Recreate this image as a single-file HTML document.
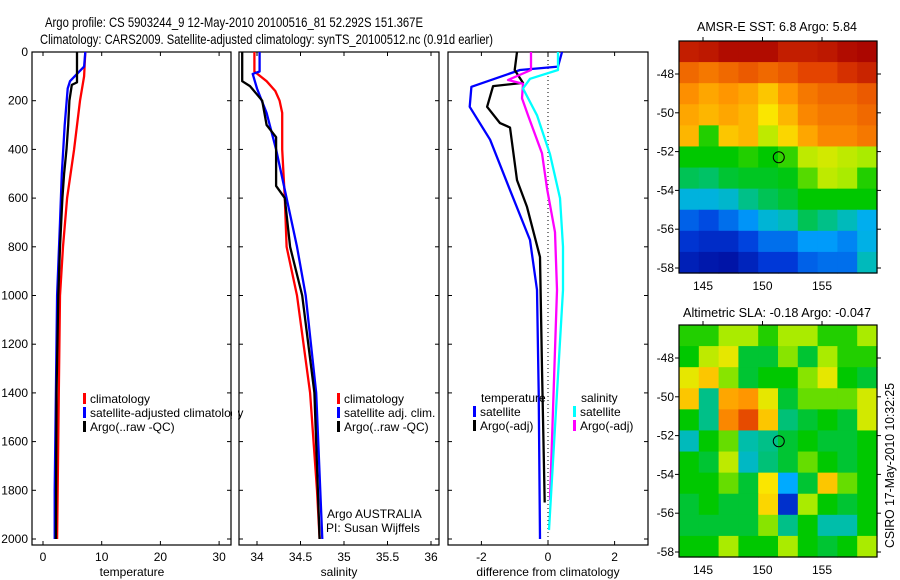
<!DOCTYPE html>
<html><head><meta charset="utf-8">
<style>
html,body{margin:0;padding:0;background:#fff;}
svg{display:block;font-family:"Liberation Sans",sans-serif;}
</style></head>
<body>
<svg id="fig" width="900" height="580" viewBox="0 0 900 580" xmlns="http://www.w3.org/2000/svg">
<text x="45" y="27" font-size="14" textLength="378" lengthAdjust="spacingAndGlyphs">Argo profile: CS 5903244_9 12-May-2010 20100516_81 52.292S 151.367E</text>
<text x="40" y="44" font-size="14" textLength="453" lengthAdjust="spacingAndGlyphs">Climatology: CARS2009. Satellite-adjusted climatology: synTS_20100512.nc (0.91d earlier)</text>
<text x="697" y="31" font-size="13" textLength="160" lengthAdjust="spacingAndGlyphs">AMSR-E SST: 6.8 Argo: 5.84</text>
<text x="683" y="317" font-size="13" textLength="188" lengthAdjust="spacingAndGlyphs">Altimetric SLA: -0.18 Argo: -0.047</text>
<text transform="translate(894,548) rotate(-90)" font-size="13" textLength="165" lengthAdjust="spacingAndGlyphs">CSIRO 17-May-2010 10:32:25</text>
<g id="plots"></g>
</svg>
<script>
// ---------- data ----------
const tDepthClim=[0,100,200,400,600,800,1000,1400,2000];
const tClim=[7.2,7.0,6.3,5.3,4.1,3.4,2.9,2.7,2.4];
const tDepthSat=[0,60,120,150,300,500,700,1000,1800,2000];
const tSat=[7.2,7.0,4.6,4.2,3.7,3.2,2.9,2.4,2.0,2.0];
const tDepthArgo=[0,80,125,135,200,300,400,500,600,800,1000,1400,2000];
const tArgo=[5.8,5.8,5.8,4.9,4.5,4.3,4.0,3.6,3.3,2.9,2.6,2.3,2.2];

const sDepthClim=[0,80,120,160,200,250,400,600,800,1000,1400,1800,2000];
const sClim=[33.97,33.97,34.11,34.21,34.26,34.29,34.29,34.32,34.34,34.46,34.61,34.69,34.72];
const sDepthSat=[0,80,90,150,250,400,600,800,1000,1400,2000];
const sSat=[34.03,34.03,33.95,34.0,34.11,34.22,34.34,34.46,34.56,34.68,34.75];
const sDepthArgo=[0,120,140,200,300,350,550,600,800,1000,1400,2000];
const sArgo=[33.83,33.83,33.92,34.06,34.11,34.22,34.22,34.32,34.38,34.52,34.66,34.72];

const dDepthTSat=[0,60,74,143,225,360,567,772,977,1400,2000];
const dTSat=[0.42,0.3,-0.84,-2.3,-2.35,-1.74,-1.14,-0.54,-0.33,-0.28,-0.24];
const dDepthTArgo=[0,74,127,140,225,292,310,526,636,842,1300,1850];
const dTArgo=[-0.93,-1.0,-0.75,-1.65,-1.83,-1.44,-1.14,-0.93,-0.63,-0.24,-0.18,-0.1];
const dDepthSArgo=[0,74,115,130,190,260,416,560,740,977,1840];
const dSArgo=[-0.51,-0.51,-1.2,-0.75,-0.78,-0.6,-0.18,-0.03,0.21,0.27,0.06];
const dDepthSSat=[0,74,110,150,260,420,600,800,977,1963];
const dSSat=[0.3,0.3,-0.54,-0.75,-0.33,0.06,0.36,0.45,0.45,0.03];

const depthTicks=[0,200,400,600,800,1000,1200,1400,1600,1800,2000];
const tempTicks=[0,10,20,30];
const salTicks=[34,34.5,35,35.5,36];
const diffTicks=[-2,0,2];
const lonTicks=[145,150,155];
const latTicks=[-48,-50,-52,-54,-56,-58];

const sstGrid=[
[0.95,0.96,0.98,0.98,0.98,0.95,0.95,0.96,0.98,0.99],
[0.84,0.82,0.84,0.86,0.84,0.86,0.89,0.89,0.92,0.94],
[0.79,0.76,0.78,0.76,0.72,0.78,0.82,0.84,0.84,0.86],
[0.76,0.74,0.76,0.74,0.68,0.74,0.8,0.82,0.82,0.84],
[0.74,0.52,0.72,0.74,0.62,0.7,0.76,0.8,0.8,0.82],
[0.5,0.5,0.5,0.52,0.5,0.53,0.62,0.64,0.62,0.6],
[0.45,0.44,0.47,0.48,0.48,0.49,0.55,0.62,0.6,0.52],
[0.34,0.34,0.36,0.42,0.45,0.47,0.5,0.5,0.5,0.5],
[0.2,0.17,0.22,0.27,0.35,0.38,0.45,0.42,0.38,0.32],
[0.13,0.11,0.11,0.16,0.22,0.22,0.28,0.28,0.25,0.33],
[0.08,0.06,0.05,0.09,0.14,0.14,0.2,0.22,0.22,0.38]];
const slaGrid=[
[0.52,0.52,0.6,0.6,0.52,0.6,0.6,0.52,0.52,0.6],
[0.5,0.62,0.66,0.47,0.47,0.58,0.47,0.6,0.52,0.52],
[0.66,0.72,0.58,0.47,0.5,0.5,0.58,0.66,0.5,0.47],
[0.72,0.42,0.76,0.78,0.66,0.47,0.56,0.56,0.56,0.64],
[0.5,0.42,0.8,0.88,0.72,0.43,0.47,0.5,0.47,0.64],
[0.38,0.5,0.56,0.4,0.42,0.47,0.5,0.47,0.47,0.5],
[0.5,0.47,0.62,0.37,0.43,0.47,0.56,0.5,0.47,0.5],
[0.5,0.5,0.56,0.47,0.68,0.3,0.47,0.72,0.56,0.5],
[0.47,0.5,0.47,0.47,0.7,0.12,0.6,0.5,0.47,0.5],
[0.47,0.47,0.47,0.47,0.58,0.42,0.5,0.4,0.4,0.5],
[0.5,0.5,0.6,0.5,0.5,0.6,0.5,0.47,0.5,0.6]];
const argoLon=151.367, argoLat=-52.292;

// ---------- helpers ----------
const NS="http://www.w3.org/2000/svg";
const root=document.getElementById('plots');
function mk(tag,attrs,parent){const e=document.createElementNS(NS,tag);for(const k in attrs)e.setAttribute(k,attrs[k]);(parent||root).appendChild(e);return e;}
const yD=d=>52+d*0.2435;
function panel(x0,x1,name){
  const r=mk('rect',{x:x0,y:52,width:x1-x0,height:493,fill:'none',stroke:'#000','stroke-width':1.2});
  
  
  depthTicks.forEach(d=>{mk('line',{x1:x0,x2:x0+4,y1:yD(d),y2:yD(d),stroke:'#000'});mk('line',{x1:x1,x2:x1-4,y1:yD(d),y2:yD(d),stroke:'#000'});});
}
function xTicks(ticks,sx,name){
  ticks.forEach(v=>{const x=sx(v);
    mk('line',{x1:x,x2:x,y1:545,y2:541,stroke:'#000'});mk('line',{x1:x,x2:x,y1:52,y2:56,stroke:'#000'});
    const t=mk('text',{x:x,y:561,'font-size':12,'text-anchor':'middle'});t.textContent=String(v);
    
    });
}
function line(ds,vs,sx,color,name){
  const pts=ds.map((d,i)=>sx(vs[i]).toFixed(1)+','+yD(d).toFixed(1)).join(' ');
  const p=mk('polyline',{points:pts,fill:'none',stroke:color,'stroke-width':2.3,'stroke-linejoin':'round'});
  
  
}
function label(x,y,s,name,anchor){const t=mk('text',{x:x,y:y,'font-size':12,'text-anchor':anchor||'start'});t.textContent=s;
  
  return t;}
function legend(x,y,color,s,name){mk('rect',{x:x,y:y-10,width:3,height:11,fill:color});label(x+7,y,s,name);}

// ---------- panel 1: temperature ----------
const sxT=v=>43+v*5.87;
panel(32,231,'temperature-panel');
depthTicks.forEach(d=>label(28,yD(d)+4,String(d),'depth-tick-label','end'));
xTicks(tempTicks,sxT,'temperature-tick-label');
line(tDepthClim,tClim,sxT,'#f00','temp-climatology-line');
line(tDepthSat,tSat,sxT,'#00f','temp-satellite-line');
line(tDepthArgo,tArgo,sxT,'#000','temp-argo-line');
label(132,576,'temperature','temperature-axis-title','middle');
legend(83,403,'#f00','climatology','legend-climatology');
legend(83,417,'#00f','satellite-adjusted climatology','legend-satellite-adjusted');
legend(83,431,'#000','Argo(..raw -QC)','legend-argo-raw');

// ---------- panel 2: salinity ----------
const sxS=v=>257+(v-34)*87;
mk('rect',{x:232,y:380,width:6,height:60,fill:'#fff'});
panel(239,439,'salinity-panel');
xTicks(salTicks,sxS,'salinity-tick-label');
line(sDepthClim,sClim,sxS,'#f00','sal-climatology-line');
line(sDepthSat,sSat,sxS,'#00f','sal-satellite-line');
line(sDepthArgo,sArgo,sxS,'#000','sal-argo-line');
label(339,576,'salinity','salinity-axis-title','middle');
legend(337,403,'#f00','climatology','legend-sal-climatology');
legend(337,417,'#00f','satellite adj. clim.','legend-sal-satellite');
legend(337,431,'#000','Argo(..raw -QC)','legend-sal-argo');
label(327,518,'Argo AUSTRALIA','argo-australia-label');
label(326,532,'PI: Susan Wijffels','pi-label');

// ---------- panel 3: differences ----------
const sxD=v=>548+v*33.3;
panel(448,648,'difference-panel');
mk('line',{x1:sxD(0),x2:sxD(0),y1:52,y2:545,stroke:'#000','stroke-dasharray':'1,3'});
xTicks(diffTicks,sxD,'difference-tick-label');
line(dDepthTSat,dTSat,sxD,'#00f','diff-temp-satellite-line');
line(dDepthTArgo,dTArgo,sxD,'#000','diff-temp-argo-line');
line(dDepthSArgo,dSArgo,sxD,'#f0f','diff-sal-argo-line');
line(dDepthSSat,dSSat,sxD,'#0ff','diff-sal-satellite-line');
label(548,576,'difference from climatology','difference-axis-title','middle');
label(481,402,'temperature','legend-temperature-header');
label(581,402,'salinity','legend-salinity-header');
legend(473,416,'#00f','satellite','legend-diff-temp-satellite');
legend(473,430,'#000','Argo(-adj)','legend-diff-temp-argo');
legend(573,416,'#0ff','satellite','legend-diff-sal-satellite');
legend(573,430,'#f0f','Argo(-adj)','legend-diff-sal-argo');

// ---------- maps ----------
const cmapStops=[[0,0,0,140],[0.15,0,60,220],[0.3,0,170,255],[0.4,0,190,170],[0.5,0,200,0],[0.6,170,235,0],[0.68,250,230,0],[0.78,255,150,0],[0.9,225,60,0],[1,165,0,0]];
function cmap(v){v=Math.max(0,Math.min(1,v));
  for(let i=1;i<cmapStops.length;i++){const a=cmapStops[i-1],b=cmapStops[i];
    if(v<=b[0]){const f=(v-a[0])/(b[0]-a[0]);
      return 'rgb('+[1,2,3].map(k=>Math.round(a[k]+f*(b[k]-a[k]))).join(',')+')';}}
  return 'rgb(165,0,0)';}
function map(grid,top,name,lat48y){
  const x0=679,x1=877,bottom=top+232;
  const rows=grid.length,cols=grid[0].length,cw=(x1-x0)/cols,ch=(bottom-top)/rows;
  const g=mk('g',{});
  
  
  grid.forEach((row,i)=>row.forEach((v,j)=>{
    const c=mk('rect',{x:(x0+j*cw).toFixed(2),y:(top+i*ch).toFixed(2),width:(cw+0.6).toFixed(2),height:(ch+0.6).toFixed(2),fill:cmap(v)},g);
    
    
  }));
  mk('rect',{x:x0,y:top,width:x1-x0,height:232,fill:'none',stroke:'#000','stroke-width':1.2});
  const sx=lon=>703+(lon-145)*11.9, sy=lat=>lat48y+(-48-lat)*19.4;
  lonTicks.forEach(l=>{const x=sx(l);mk('line',{x1:x,x2:x,y1:top,y2:top-4,stroke:'#000'});
    label(x,bottom+17,String(l),'longitude-tick-label','middle');});
  latTicks.forEach(l=>{const y=sy(l);mk('line',{x1:x0,x2:x0-4,y1:y,y2:y,stroke:'#000'});mk('line',{x1:x1,x2:x1+4,y1:y,y2:y,stroke:'#000'});
    label(x0-5,y+4,String(l),'latitude-tick-label','end');});
  const c=mk('circle',{cx:sx(argoLon),cy:sy(argoLat),r:5.5,fill:'none',stroke:'#000','stroke-width':1});
  
  
}
map(sstGrid,41,'sst-map',74);
map(slaGrid,325,'sla-map',358);
</script>
</body></html>
